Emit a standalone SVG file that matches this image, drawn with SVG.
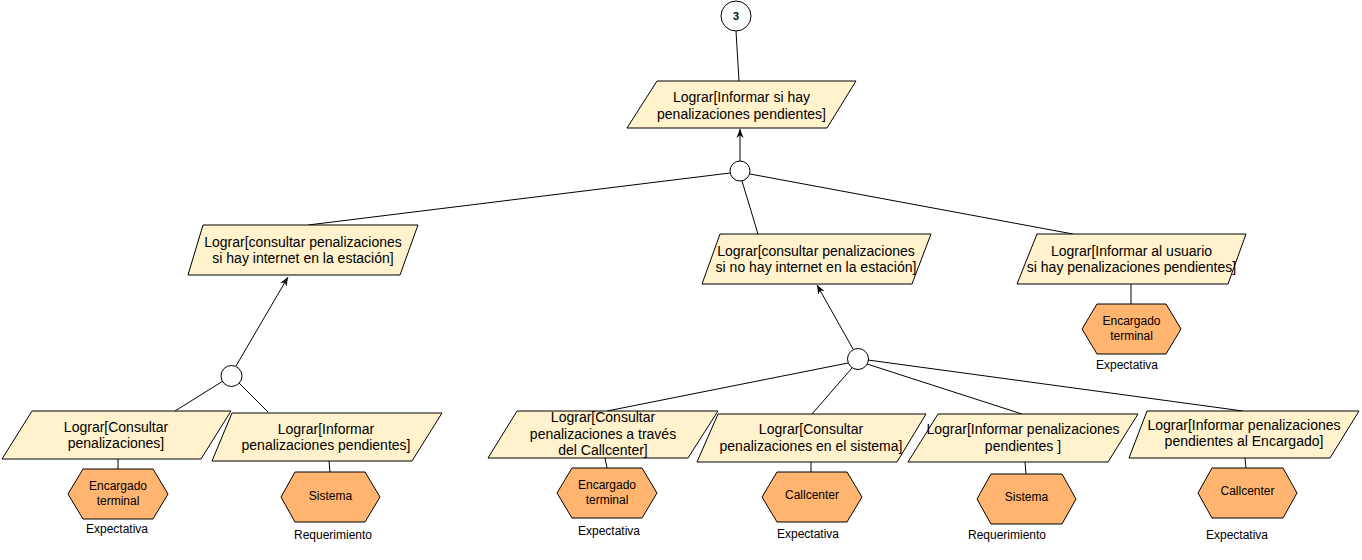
<svg xmlns="http://www.w3.org/2000/svg" width="1362" height="560" viewBox="0 0 1362 560">
<style>
.goal{fill:#FFF2CC;stroke:#000;stroke-width:1}
.agent{fill:#FFB570;stroke:#000;stroke-width:1}
.or{fill:#fff;stroke:#000;stroke-width:1}
.t{font-family:"Liberation Sans",Arial,sans-serif;font-size:14px;fill:#000;text-anchor:middle}
.s{font-family:"Liberation Sans",Arial,sans-serif;font-size:12px;fill:#000;text-anchor:middle}
.b{font-family:"Liberation Sans",Arial,sans-serif;font-size:11px;font-weight:bold;fill:#000;text-anchor:middle}
.c{fill:none;stroke:#000;stroke-width:1}
</style>
<defs>
<marker id="arr" viewBox="0 0 10 10" refX="10" refY="5" markerWidth="9" markerHeight="9" markerUnits="userSpaceOnUse" orient="auto">
<path d="M0,1 L10,5 L0,9 L3,5 Z" fill="#000"/>
</marker>
</defs>
<g id="connectors">
<path class="c" d="M736,31 L739,81"/>
<path class="c" d="M740,161 L740,129" marker-end="url(#arr)"/>
<path class="c" d="M730,173 L308,225"/>
<path class="c" d="M742,181 L758,234"/>
<path class="c" d="M750,174 L1073,234"/>
<path class="c" d="M236,366 L288,277" marker-end="url(#arr)"/>
<path class="c" d="M223,381 L175,411"/>
<path class="c" d="M239,383 L268,412"/>
<path class="c" d="M118,459 L118,469"/>
<path class="c" d="M329,461 L330,472"/>
<path class="c" d="M853,349 L817,285" marker-end="url(#arr)"/>
<path class="c" d="M848,363 L607,411"/>
<path class="c" d="M852,368 L812,414"/>
<path class="c" d="M867,364 L1022,414"/>
<path class="c" d="M868,360 L1243,411"/>
<path class="c" d="M605,458 L607,468"/>
<path class="c" d="M811,462 L811,472"/>
<path class="c" d="M1025,462 L1026,474"/>
<path class="c" d="M1245,458 L1246,468"/>
<path class="c" d="M1131,284 L1131,304"/>
</g>
<g id="n3">
<circle class="or" cx="736" cy="16" r="15"/>
<text class="b" x="736" y="20">3</text>
</g>
<g id="g-top">
<polygon class="goal" points="657,81 856,81 827,128 627,128"/>
<text class="t" x="741.5" y="101.5">Lograr[Informar si hay</text>
<text class="t" x="741.5" y="118.5">penalizaciones pendientes]</text>
</g>
<g id="or-top">
<circle class="or" cx="740" cy="171" r="10"/>
</g>
<g id="g-left">
<polygon class="goal" points="203,225 418,225 400,275 188,275"/>
<text class="t" x="303" y="246.5">Lograr[consultar penalizaciones</text>
<text class="t" x="303" y="263">si hay internet en la estación]</text>
</g>
<g id="g-mid">
<polygon class="goal" points="720,234 931,234 912,284 702,284"/>
<text class="t" x="816" y="255.5">Lograr[consultar penalizaciones</text>
<text class="t" x="816" y="272">si no hay internet en la estación]</text>
</g>
<g id="g-right">
<polygon class="goal" points="1037,234 1246,234 1228,284 1017,284"/>
<text class="t" x="1131.5" y="255.5">Lograr[Informar al usuario</text>
<text class="t" x="1131.5" y="272">si hay penalizaciones pendientes]</text>
</g>
<g id="a-right">
<polygon class="agent" points="1097,304 1166,304 1181,329 1166,354 1097,354 1082,329"/>
<text class="s" x="1131.5" y="325">Encargado</text>
<text class="s" x="1131.5" y="340">terminal</text>
<text class="s" x="1127" y="369">Expectativa</text>
</g>
<g id="or-left">
<circle class="or" cx="231.5" cy="376" r="10.5"/>
</g>
<g id="g-l1">
<polygon class="goal" points="32,411 231,411 201,459 2,459"/>
<text class="t" x="116" y="431.5">Lograr[Consultar</text>
<text class="t" x="116" y="448">penalizaciones]</text>
</g>
<g id="a-l1">
<polygon class="agent" points="83,469 153,469 168,494 153,519 83,519 68,494"/>
<text class="s" x="118" y="490">Encargado</text>
<text class="s" x="118" y="505">terminal</text>
<text class="s" x="117" y="533">Expectativa</text>
</g>
<g id="g-l2">
<polygon class="goal" points="232,413 442,413 412,461 212,461"/>
<text class="t" x="326" y="433.5">Lograr[Informar</text>
<text class="t" x="326" y="450">penalizaciones pendientes]</text>
</g>
<g id="a-l2">
<polygon class="agent" points="295,472 365,472 380,497 365,522 295,522 281,497"/>
<text class="s" x="330.5" y="500">Sistema</text>
<text class="s" x="333" y="539">Requerimiento</text>
</g>
<g id="or-mid">
<circle class="or" cx="858" cy="359" r="10.5"/>
</g>
<g id="g-m1">
<polygon class="goal" points="517,411 718,411 688,458 488,458"/>
<text class="t" x="603" y="422">Lograr[Consultar</text>
<text class="t" x="603" y="438.5">penalizaciones a través</text>
<text class="t" x="603" y="455">del Callcenter]</text>
</g>
<g id="a-m1">
<polygon class="agent" points="572,468 642,468 657,493 642,518 572,518 557,493"/>
<text class="s" x="607" y="489">Encargado</text>
<text class="s" x="607" y="504">terminal</text>
<text class="s" x="609" y="535">Expectativa</text>
</g>
<g id="g-m2">
<polygon class="goal" points="718,414 926,414 897,462 697,462"/>
<text class="t" x="811" y="433.5">Lograr[Consultar</text>
<text class="t" x="811" y="450.5">penalizaciones en el sistema]</text>
</g>
<g id="a-m2">
<polygon class="agent" points="777,472 847,472 862,497 847,522 777,522 762,497"/>
<text class="s" x="812" y="499">Callcenter</text>
<text class="s" x="808" y="538">Expectativa</text>
</g>
<g id="g-m3">
<polygon class="goal" points="938,414 1138,414 1108,462 908,462"/>
<text class="t" x="1023" y="433.5">Lograr[Informar penalizaciones</text>
<text class="t" x="1023" y="450.5">pendientes ]</text>
</g>
<g id="a-m3">
<polygon class="agent" points="991,474 1062,474 1076,499 1062,524 991,524 977,499"/>
<text class="s" x="1026.5" y="501">Sistema</text>
<text class="s" x="1007" y="539">Requerimiento</text>
</g>
<g id="g-m4">
<polygon class="goal" points="1147,411 1359,411 1330,458 1129,458"/>
<text class="t" x="1244" y="429.5">Lograr[Informar penalizaciones</text>
<text class="t" x="1244" y="446">pendientes al Encargado]</text>
</g>
<g id="a-m4">
<polygon class="agent" points="1212,468 1283,468 1297,493 1283,518 1212,518 1198,493"/>
<text class="s" x="1247.5" y="495">Callcenter</text>
<text class="s" x="1237" y="539">Expectativa</text>
</g>
</svg>
